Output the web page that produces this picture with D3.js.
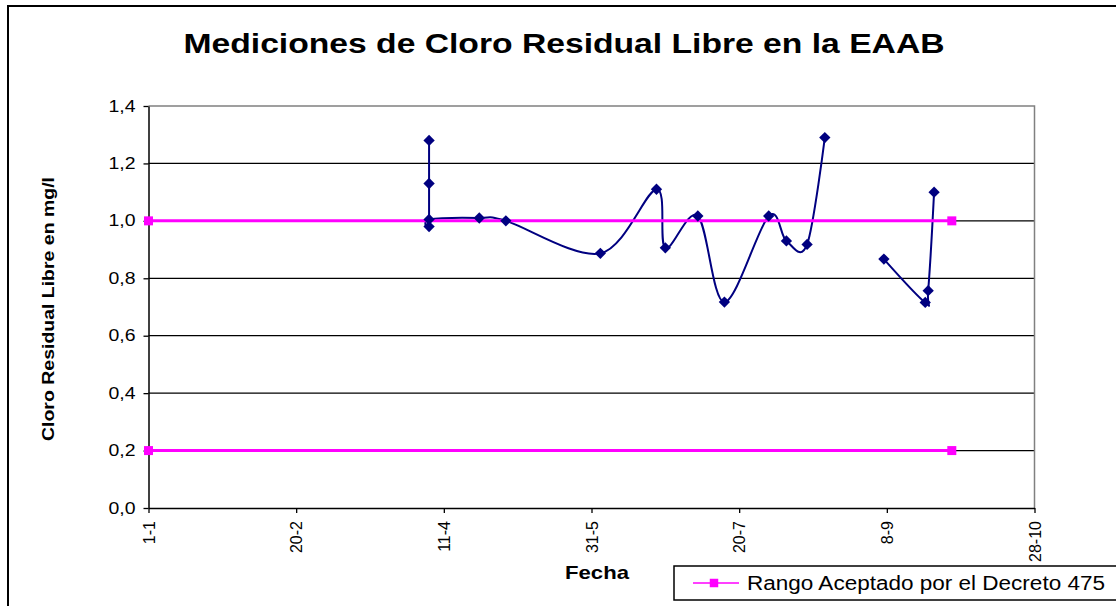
<!DOCTYPE html>
<html>
<head>
<meta charset="utf-8">
<script src="https://cdn.jsdelivr.net/npm/d3@7"></script>
<style>
  body { margin: 0; background: #fff; }
  svg { display: block; font-family: "Liberation Sans", Arial, sans-serif; }
</style>
</head>
<body>
<div id="chart"></div>
<script>
// datos
let fechas = ["2007-04-06", "2007-04-06", "2007-04-06", "2007-04-06", "2007-04-23", "2007-05-02",
    "2007-06-03", "2007-06-22", "2007-06-25", "2007-07-06", "2007-07-15", "2007-07-30",
    "2007-08-05", "2007-08-12", "2007-08-18", "2007-08-28", "2007-09-07", "2007-09-21",
    "2007-09-22", "2007-09-24"];
let cloro = [1.28, 1.13, 0.98, 1.005, 1.01, 1.0,
    0.887, 1.11, 0.906, 1.017, 0.717, 1.017,
    0.93, 0.918, 1.29, null, 0.867, 0.716,
    0.757, 1.10];

// rango aceptado por el decreto 475
let rangoFechas = ["2007-01-01", "2007-09-30"];
let rangoMax = [1.0, 1.0];
let rangoMin = [0.2, 0.2];

let tickFechas = ["2007-01-01", "2007-02-20", "2007-04-11", "2007-05-31", "2007-07-20", "2007-09-08", "2007-10-28"];
let tickY = [0, 0.2, 0.4, 0.6, 0.8, 1.0, 1.2, 1.4];

let parse = d3.timeParse("%Y-%m-%d");
let W = 1116, H = 606;
let plotLeft = 148.5, plotRight = 1034.5, plotTop = 106, plotBottom = 508;

let svg = d3.select('#chart')
    .append('svg')
    .attr('width', W)
    .attr('height', H)
    .style('background', '#fff');

let x = d3.scaleTime()
    .domain([parse(tickFechas[0]), parse(tickFechas[tickFechas.length - 1])])
    .range([plotLeft, plotRight]);

let y = d3.scaleLinear()
    .domain([0, 1.4])
    .range([plotBottom, plotTop]);

let es = d3.formatLocale({decimal: ",", thousands: ".", grouping: [3], currency: ["", ""]});

// marco exterior
svg.append('rect')
    .attr('x', 8).attr('y', 6)
    .attr('width', W + 20).attr('height', H + 20)
    .attr('fill', 'none')
    .attr('stroke', '#000')
    .attr('stroke-width', 2);

// lineas de cuadricula
svg.append('g')
    .selectAll('line')
    .data(tickY.filter(d => d > 0 && d < 1.4))
    .join('line')
    .attr('x1', plotLeft).attr('x2', plotRight)
    .attr('y1', d => y(d)).attr('y2', d => y(d))
    .attr('stroke', '#000')
    .attr('stroke-width', 1.3);

// borde del area (arriba y derecha gris)
svg.append('path')
    .attr('d', `M${plotLeft},${y(1.4)}H${plotRight}V${plotBottom}`)
    .attr('fill', 'none')
    .attr('stroke', '#808080')
    .attr('stroke-width', 1.5);

// eje y
let yAxis = svg.append('g')
    .attr('transform', `translate(${plotLeft},0)`)
    .call(d3.axisLeft(y).tickValues(tickY).tickFormat(es.format('.1f')).tickSize(5).tickSizeOuter(0));
yAxis.select('.domain').attr('stroke', '#000').attr('stroke-width', 1.5);
yAxis.selectAll('.tick line').attr('stroke', '#000').attr('stroke-width', 1.3);
yAxis.selectAll('.tick text')
    .attr('x', -13)
    .attr('font-size', 16)
    .attr('font-family', '"Liberation Sans", Arial, sans-serif')
    .attr('fill', '#000')
    .attr('textLength', 27)
    .attr('lengthAdjust', 'spacingAndGlyphs');

// eje x
let xAxis = svg.append('g')
    .attr('transform', `translate(0,${plotBottom})`)
    .call(d3.axisBottom(x).tickValues(tickFechas.map(parse)).tickFormat(d3.timeFormat('%-d-%-m')).tickSize(5).tickSizeOuter(0));
xAxis.select('.domain').attr('stroke', '#000').attr('stroke-width', 1.5);
xAxis.selectAll('.tick line').attr('stroke', '#000').attr('stroke-width', 1.3);
xAxis.selectAll('.tick text')
    .attr('transform', 'rotate(-90)')
    .attr('text-anchor', 'end')
    .attr('x', -13)
    .attr('y', 0)
    .attr('dy', '0.35em')
    .attr('font-size', 16)
    .attr('font-family', '"Liberation Sans", Arial, sans-serif')
    .attr('fill', '#000');

// titulo
svg.append('text')
    .attr('x', 564)
    .attr('y', 53)
    .attr('text-anchor', 'middle')
    .attr('font-size', 28)
    .attr('font-weight', 'bold')
    .attr('textLength', 761)
    .attr('lengthAdjust', 'spacingAndGlyphs')
    .text('Mediciones de Cloro Residual Libre en la EAAB');

// titulo eje y
svg.append('text')
    .attr('transform', `translate(54,${(plotTop + plotBottom) / 2 + 2}) rotate(-90)`)
    .attr('text-anchor', 'middle')
    .attr('font-size', 16)
    .attr('font-weight', 'bold')
    .attr('textLength', 264)
    .attr('lengthAdjust', 'spacingAndGlyphs')
    .text('Cloro Residual Libre en mg/l');

// titulo eje x
svg.append('text')
    .attr('x', 597)
    .attr('y', 579)
    .attr('text-anchor', 'middle')
    .attr('font-size', 19)
    .attr('font-weight', 'bold')
    .attr('textLength', 64)
    .attr('lengthAdjust', 'spacingAndGlyphs')
    .text('Fecha');

// serie mediciones (linea)
let medidas = fechas.map((f, i) => ({f: parse(f), v: cloro[i]}));
let lineaMedidas = d3.line()
    .defined(d => d.v != null)
    .x(d => x(d.f))
    .y(d => y(d.v))
    .curve(d3.curveCatmullRom.alpha(0));

svg.append('path')
    .attr('d', lineaMedidas(medidas))
    .attr('fill', 'none')
    .attr('stroke', '#000080')
    .attr('stroke-width', 2);

// serie rango aceptado
let rango = [rangoMax, rangoMin].map(vals => vals.map((v, i) => ({f: parse(rangoFechas[i]), v: v})));
let lineaRango = d3.line().x(d => x(d.f)).y(d => y(d.v));

rango.forEach(serie => {
    svg.append('path')
        .attr('d', lineaRango(serie))
        .attr('fill', 'none')
        .attr('stroke', '#ff00ff')
        .attr('stroke-width', 3);
    svg.append('g')
        .selectAll('path')
        .data(serie)
        .join('path')
        .attr('transform', d => `translate(${x(d.f)},${y(d.v)})`)
        .attr('d', d3.symbol(d3.symbolSquare, 81))
        .attr('fill', '#ff00ff');
});

// marcadores de las mediciones
svg.append('g')
    .selectAll('path')
    .data(medidas.filter(d => d.v != null))
    .join('path')
    .attr('transform', d => `translate(${x(d.f)},${y(d.v)}) rotate(45)`)
    .attr('d', d3.symbol(d3.symbolSquare, 64))
    .attr('fill', '#000080');

// leyenda
let leyenda = svg.append('g');
leyenda.append('rect')
    .attr('x', 674).attr('y', 566)
    .attr('width', 460).attr('height', 34)
    .attr('fill', '#fff')
    .attr('stroke', '#000')
    .attr('stroke-width', 1.5);
leyenda.append('line')
    .attr('x1', 693).attr('x2', 739)
    .attr('y1', 583).attr('y2', 583)
    .attr('stroke', '#ff00ff')
    .attr('stroke-width', 1.5);
leyenda.append('path')
    .attr('transform', 'translate(714,583)')
    .attr('d', d3.symbol(d3.symbolSquare, 72))
    .attr('fill', '#ff00ff');
leyenda.append('text')
    .attr('x', 747)
    .attr('y', 590)
    .attr('font-size', 19.5)
    .attr('textLength', 358)
    .attr('lengthAdjust', 'spacingAndGlyphs')
    .text('Rango Aceptado por el Decreto 475');
</script>
</body>
</html>
